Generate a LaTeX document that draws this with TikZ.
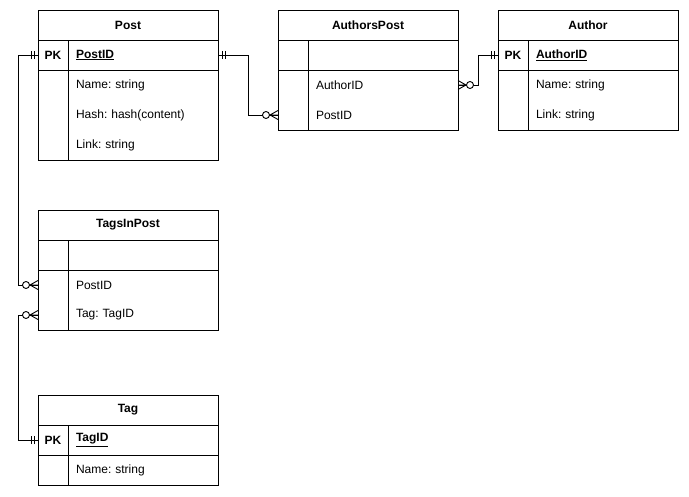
\documentclass[tikz,border=0pt]{standalone}
\usepackage{fontspec}
\setmainfont{Liberation Sans}
\usetikzlibrary{positioning,fit}
\frenchspacing

\begin{document}
\begin{tikzpicture}[x=1pt,y=-1pt,line width=0.9pt,
every node/.style={font=\fontsize{12}{14}\selectfont},
head/.style={draw,minimum width=180pt,minimum height=30pt,inner sep=0pt,outer sep=0pt,font=\fontsize{12}{14}\selectfont\bfseries},
keycell/.style={minimum width=30pt,minimum height=30pt,inner sep=0pt,outer sep=0pt,font=\fontsize{12}{14}\selectfont\bfseries},
fieldcell/.style={minimum height=30pt,text width=134pt,inner xsep=8pt,inner ysep=0pt,outer sep=0pt,align=left},
box/.style={draw,inner sep=0pt,outer sep=0pt},
one/.pic={\draw (4,-4) -- (4,4) (7,-4) -- (7,4);},
many/.pic={\draw (0,-4.5) -- (8,0) -- (0,4.5) (0,0) -- (8,0); \draw[fill=white] (12,0) circle (3.5);}]

\useasboundingbox (0,0) rectangle (689,497);

% Post
\node[head] (post) at (128,25) {Post};
\node[keycell,draw,anchor=north west] (postpk) at (post.south west) {PK};
\node[fieldcell,draw,font=\fontsize{12}{14}\selectfont\bfseries,right=0pt of postpk] (postid) {\underline{PostID}};
\node[keycell,below=0pt of postpk] (postk1) {};
\node[fieldcell,right=0pt of postk1] (postname) {Name: string};
\node[keycell,below=0pt of postk1] (postk2) {};
\node[fieldcell,right=0pt of postk2] (posthash) {Hash: hash(content)};
\node[keycell,below=0pt of postk2] (postk3) {};
\node[fieldcell,right=0pt of postk3] (postlink) {Link: string};
\node[box,fit=(postk1)(postk3)] {};
\node[box,fit=(postname)(postlink)] {};

% AuthorsPost
\node[head,right=60pt of post] (authorspost) {AuthorsPost};
\node[keycell,draw,anchor=north west] (apk) at (authorspost.south west) {};
\node[fieldcell,draw,right=0pt of apk] (apf) {};
\node[keycell,below=0pt of apk] (aauthk) {};
\node[fieldcell,right=0pt of aauthk] (aauthid) {AuthorID};
\node[keycell,below=0pt of aauthk] (apostk) {};
\node[fieldcell,right=0pt of apostk] (apostid) {PostID};
\node[box,fit=(aauthk)(apostk)] {};
\node[box,fit=(aauthid)(apostid)] {};

% Author
\node[head,right=40pt of authorspost] (author) {Author};
\node[keycell,draw,anchor=north west] (authpk) at (author.south west) {PK};
\node[fieldcell,draw,font=\fontsize{12}{14}\selectfont\bfseries,right=0pt of authpk] (authid) {\underline{AuthorID}};
\node[keycell,below=0pt of authpk] (authk1) {};
\node[fieldcell,right=0pt of authk1] (authname) {Name: string};
\node[keycell,below=0pt of authk1] (authk2) {};
\node[fieldcell,right=0pt of authk2] (authlink) {Link: string};
\node[box,fit=(authk1)(authk2)] {};
\node[box,fit=(authname)(authlink)] {};

% TagsInPost
\node[head] (tagsinpost) at (128,225) {TagsInPost};
\node[keycell,draw,anchor=north west] (tpk) at (tagsinpost.south west) {};
\node[fieldcell,draw,right=0pt of tpk] (tpf) {};
\node[keycell,below=0pt of tpk] (tpostk) {};
\node[fieldcell,right=0pt of tpostk] (tpostid) {PostID};
\node[keycell,below=0pt of tpostk] (ttagk) {};
\node[fieldcell,right=0pt of ttagk] (ttag) {Tag: TagID};
\node[box,fit=(tpostk)(ttagk)] {};
\node[box,fit=(tpostid)(ttag)] {};

% Tag
\node[head] (tag) at (128,410) {Tag};
\node[keycell,draw,anchor=north west] (tagpk) at (tag.south west) {PK};
\node[fieldcell,draw,font=\fontsize{12}{14}\selectfont\bfseries,right=0pt of tagpk] (tagid) {\underline{TagID}};
\node[keycell,below=0pt of tagpk] (tagk1) {};
\node[fieldcell,right=0pt of tagk1] (tagname) {Name: string};
\node[box,fit=(tagk1)] {};
\node[box,fit=(tagname)] {};

% relations
\draw (postid.east) -- ++(30,0) |- (apostk.west);
\draw (authpk.west) -- ++(-20,0) |- (aauthid.east);
\draw (postpk.west) -- ++(-20,0) |- (tpostk.west);
\draw (tagpk.west) -- ++(-20,0) |- (ttagk.west);

% ends
\pic at (postid.east) {one};
\pic[rotate=180] at (apostk.west) {many};
\pic[rotate=180] at (authpk.west) {one};
\pic at (aauthid.east) {many};
\pic[rotate=180] at (postpk.west) {one};
\pic[rotate=180] at (tpostk.west) {many};
\pic[rotate=180] at (ttagk.west) {many};
\pic[rotate=180] at (tagpk.west) {one};

\end{tikzpicture}
\end{document}
